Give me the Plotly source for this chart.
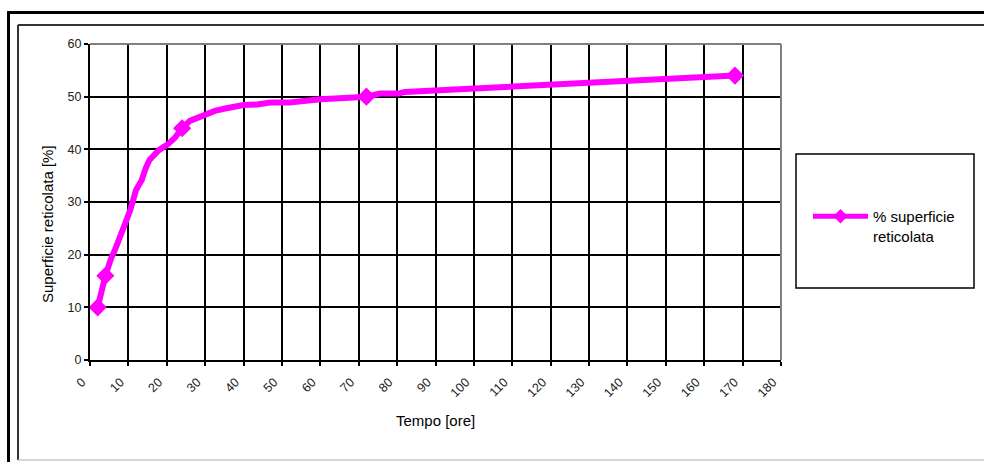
import plotly.graph_objects as go

# Reticulated surface (%) versus curing time (hours)
hours = [2, 3, 4, 5.5, 6.5, 9, 10.5, 12, 13.5, 14.5, 15.5, 18, 20, 22, 24,
         26, 29.5, 32.5, 35.5, 40, 43.5, 47, 52, 55.5, 60, 67.5, 72,
         75.5, 80.5, 82, 87.5, 90.5, 100.5, 109.5, 117, 122.5, 128.5,
         140, 149.5, 156.5, 168]
surface = [10, 13.5, 16, 19.3, 20.9, 25.6, 28.5, 32.3, 34.2, 36.4, 38, 39.9,
           40.8, 42.1, 44, 45.4, 46.5, 47.3, 47.8, 48.4, 48.5, 48.9, 48.9,
           49.2, 49.5, 49.8, 50, 50.6, 50.6, 50.9, 51.1, 51.4, 51.7, 52,
           52.3, 52.3, 52.8, 53.2, 53.5, 53.6, 54]
# measured points that carry a diamond marker
marked_hours = [2, 4, 24, 72, 168]

x_ticks = list(range(0, 181, 10))
y_ticks = list(range(0, 61, 10))

series_name = "% superficie<br>reticolata"
magenta = "#FF00FF"
font_family = "Liberation Sans, Arial, sans-serif"

W, H = 984, 462
L, R, T, B = 90, 203, 44, 102
pw, ph = W - L - R, H - T - B


def px(xp):
    return (xp - L) / pw


def py(yp):
    return (H - B - yp) / ph


marker_sizes = [14 if h in marked_hours else 0 for h in hours]

fig = go.Figure()
fig.add_trace(go.Scatter(
    x=hours, y=surface, mode="lines+markers",
    line=dict(color=magenta, width=6),
    marker=dict(symbol="diamond", size=marker_sizes, color=magenta,
                opacity=1, line=dict(width=0)),
    showlegend=False, hoverinfo="x+y",
))
# legend entry for the series
fig.add_trace(go.Scatter(
    x=[None], y=[None], mode="lines+markers", name=series_name,
    line=dict(color=magenta, width=5),
    marker=dict(symbol="diamond", size=11, color=magenta, opacity=1),
))

shapes = [
    # outer chart frame
    dict(type="rect", xref="paper", yref="paper", x0=px(8.5), x1=px(995),
         y0=py(475), y1=py(12.5), line=dict(color="black", width=3)),
    # inner chart-area border
    dict(type="line", xref="paper", yref="paper", x0=px(18), x1=px(18),
         y0=py(460), y1=py(25), line=dict(color="#333333", width=2)),
    dict(type="line", xref="paper", yref="paper", x0=px(18), x1=px(995),
         y0=py(25), y1=py(25), line=dict(color="#333333", width=2)),
    dict(type="line", xref="paper", yref="paper", x0=px(18), x1=px(995),
         y0=py(460), y1=py(460), line=dict(color="#c8c8c8", width=1.5)),
    # plot-area border (top and right)
    dict(type="line", xref="paper", yref="paper", x0=0, x1=1, y0=1, y1=1,
         line=dict(color="#808080", width=2), layer="above"),
    dict(type="line", xref="paper", yref="paper", x0=1, x1=1, y0=0, y1=1,
         line=dict(color="#808080", width=2), layer="above"),
    # legend box
    dict(type="rect", xref="paper", yref="paper", x0=px(796), x1=px(974),
         y0=py(288), y1=py(154), line=dict(color="black", width=1.5)),
]

fig.update_layout(
    width=W, height=H,
    margin=dict(l=L, r=R, t=T, b=B),
    paper_bgcolor="white", plot_bgcolor="white",
    font=dict(family=font_family, color="black"),
    shapes=shapes,
    showlegend=True,
    legend=dict(
        x=px(808), y=py(200), xanchor="left", yanchor="top",
        bgcolor="rgba(0,0,0,0)", borderwidth=0,
        font=dict(size=15, family=font_family, color="black"),
        valign="top", itemwidth=55,
    ),
    xaxis=dict(
        range=[0, 180], tickvals=x_ticks, tickangle=-45,
        showgrid=True, gridcolor="black", gridwidth=2,
        showline=True, linecolor="black", linewidth=2,
        ticks="outside", ticklen=4, tickwidth=2, tickcolor="black",
        tickfont=dict(size=12.5, color="#222222"),
        ticklabelshift=-8, ticklabelstandoff=4,
        zeroline=False, fixedrange=True,
    ),
    yaxis=dict(
        range=[0, 60], tickvals=y_ticks,
        showgrid=True, gridcolor="black", gridwidth=2,
        showline=True, linecolor="black", linewidth=2,
        ticks="outside", ticklen=4, tickwidth=2, tickcolor="black",
        tickfont=dict(size=12.5, color="#222222"),
        zeroline=False, fixedrange=True,
    ),
    annotations=[
        dict(text="Tempo [ore]", xref="paper", yref="paper",
             x=px(435), y=py(420), xanchor="center", yanchor="middle",
             showarrow=False, font=dict(size=15, color="black")),
        dict(text="Superficie reticolata [%]", xref="paper", yref="paper",
             x=px(48), y=py(224), xanchor="center", yanchor="middle",
             showarrow=False, textangle=-90,
             font=dict(size=15, color="black")),
    ],
)

fig.write_html("out.html")
